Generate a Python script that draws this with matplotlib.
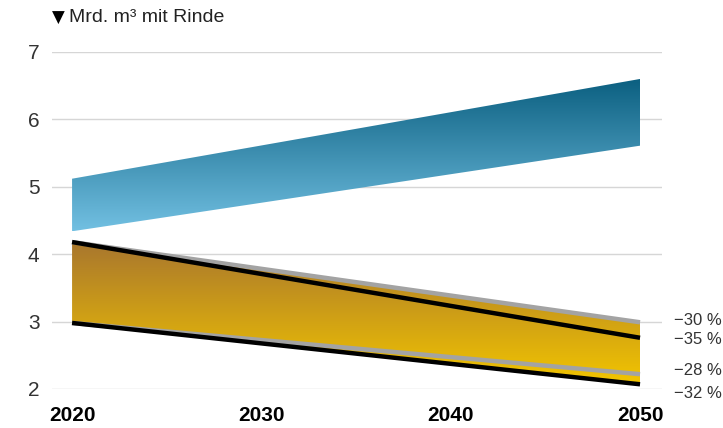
import numpy as np
import matplotlib.pyplot as plt
from matplotlib.colors import LinearSegmentedColormap
from matplotlib import font_manager

years = [2020, 2050]
# band of potential wood supply (upper / lower edge)
blue_top = [5.12, 6.60]
blue_bottom = [4.34, 5.61]
# scenario lines
grey_upper = [4.18, 2.99]
black_upper = [4.18, 2.76]
grey_lower = [2.98, 2.22]
black_lower = [2.98, 2.07]
change_labels = ['\u221230 %', '\u221235 %', '\u221228 %', '\u221232 %']
change_pos = [3.02, 2.73, 2.28, 1.93]

names = {f.name for f in font_manager.fontManager.ttflist}
fam = 'Liberation Sans Narrow' if 'Liberation Sans Narrow' in names else 'Liberation Sans'
plt.rcParams['font.family'] = [fam, 'DejaVu Sans']

fig = plt.figure(figsize=(7.23, 4.28), dpi=100)
ax = fig.add_axes([52 / 723, 1 - 389 / 428, 610 / 723, 337 / 428])
ax.set_xlim(2018.94, 2051.16)
ax.set_ylim(2, 7)


def gradient_band(x, lo, hi, c_top, c_bottom, ymin, ymax):
    poly = ax.fill_between(x, lo, hi, color='none', lw=0)
    cmap = LinearSegmentedColormap.from_list('g', [c_bottom, c_top])
    grad = np.linspace(0, 1, 256).reshape(-1, 1)
    im = ax.imshow(grad, cmap=cmap, origin='lower', aspect='auto',
                   extent=[x[0], x[-1], ymin, ymax], zorder=2)
    im.set_clip_path(poly.get_paths()[0], transform=ax.transData)


gradient_band(years, blue_bottom, blue_top, '#0b5f80', '#72c0e2',
              min(blue_bottom), max(blue_top))
gradient_band(years, black_lower, grey_upper, '#a8762e', '#f2c500',
              min(black_lower), max(grey_upper))

ax.plot(years, grey_upper, color='#a3a3a3', lw=3.2, zorder=3, solid_capstyle='butt')
ax.plot(years, grey_lower, color='#a3a3a3', lw=3.2, zorder=3, solid_capstyle='butt')
ax.plot(years, black_upper, color='black', lw=3.2, zorder=4, solid_capstyle='butt')
ax.plot(years, black_lower, color='black', lw=3.2, zorder=4, solid_capstyle='butt', clip_on=False)

for lab, y in zip(change_labels, change_pos):
    ax.text(2051.8, y, lab, fontsize=12, color='#333333', va='center', ha='left',
            clip_on=False)

for v in range(2, 8):
    ax.axhline(v, color='#d6d6d6', lw=1, zorder=1)

ax.set_yticks(range(2, 8))
ax.set_yticklabels([str(v) for v in range(2, 8)], fontsize=15, color='#333333')
ax.set_xticks([2020, 2030, 2040, 2050])
ax.set_xticklabels(['2020', '2030', '2040', '2050'], fontsize=15, fontweight='bold')
ax.tick_params(length=0, axis='y', pad=9)
ax.tick_params(length=0, axis='x', pad=12)
for s in ax.spines.values():
    s.set_visible(False)

fig.text(52 / 723, 1 - 18 / 428, '\u25bc', fontsize=12, va='center', ha='left',
         family='DejaVu Sans')
fig.text(69 / 723, 1 - 18 / 428, 'Mrd. m\u00b3 mit Rinde', fontsize=14, va='center',
         ha='left', color='#222222')

fig.savefig('out.png', dpi=100)
